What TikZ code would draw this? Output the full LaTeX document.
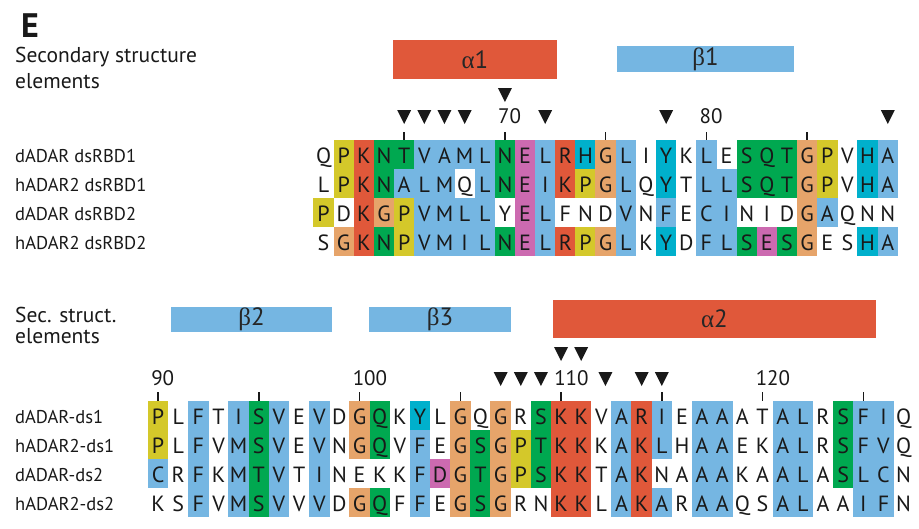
\documentclass[tikz,border=0pt]{standalone}
\usepackage{fontspec}
\setmainfont{PT Sans}
\newfontfamily\greekfont{Liberation Serif}
\usetikzlibrary{positioning}
% residue colours
\definecolor{aaY}{RGB}{212,200,42}
\definecolor{aaR}{RGB}{224,88,58}
\definecolor{aaG}{RGB}{0,168,80}
\definecolor{aaB}{RGB}{117,182,226}
\definecolor{aaM}{RGB}{204,106,176}
\definecolor{aaC}{RGB}{0,176,204}
\definecolor{aaO}{RGB}{230,164,106}
\def\colw{20.15}
\def\wcode{W}
% one alignment row: name, x of first cell, top of row, cells
\newcommand\alnrow[4]{%
  \foreach \aa/\cc [count=\k from 0] in {#4}{
    \ifx\cc\wcode\else
      \fill[fill=aa\cc] ({#2+\k*\colw-0.15},#3-0.15) rectangle ({#2+(\k+1)*\colw+0.15},#3+29.15);
    \fi
    \node[seqletter] (#1-\k) at ({#2+(\k+0.5)*\colw},#3+23) {\aa};
  }}
% filled down-pointing marker: x of centre, top
\newcommand\dsmark[2]{%
  \fill[black!90] ({#1-7},#2) -- ({#1+7},#2) -- ({#1},#2+14) -- cycle;}
\tikzset{
  every picture/.style={x=1pt,y=-1pt},
  seqletter/.style={inner sep=0pt,anchor=base,font=\fontsize{22}{26}\selectfont,text=black!90},
  rowlabel/.style={inner sep=0pt,anchor=base west,font=\fontsize{18.5}{22}\selectfont,text=black!90},
  sslabel/.style={inner sep=0pt,anchor=base west,font=\fontsize{21.5}{25}\selectfont,text=black!90},
  posnum/.style={inner sep=0pt,anchor=base west,font=\fontsize{21}{25}\selectfont,text=black!90},
  sselem/.style={inner sep=0pt,font=\fontsize{25}{29}\selectfont,text=black!85},
  tick/.style={line width=1.6pt,black!90}
}
\begin{document}
\begin{tikzpicture}
\useasboundingbox[fill=white] (0,0) rectangle (919,528);
\node[inner sep=0pt,anchor=base west,font=\fontsize{34}{38}\selectfont\bfseries,text=black!90] (panel) at (21,37) {E};
%% block 1: residues 61-89
\node[sslabel] (ss1a) at (15,62) {Secondary structure};
\node[sslabel] (ss1b) at (15,88) {elements};
\node[rowlabel] (l1) at (15,162) {dADAR dsRBD1};
\node[rowlabel] (l2) at (15,191) {hADAR2 dsRBD1};
\node[rowlabel] (l3) at (15,220) {dADAR dsRBD2};
\node[rowlabel] (l4) at (15,249) {hADAR2 dsRBD2};
\node[sselem,fill=aaR,minimum width=164pt,minimum height=39pt] (a1) at (475,59.5) {{\greekfont α}1};
\node[sselem,fill=aaB,minimum width=177pt,minimum height=26pt] (b1) at (705.5,59) {{\greekfont β}1};
\foreach \i in {4,9,...,24}{
  \draw[tick] ({313.5+(\i+0.5)*\colw},132) -- ++(0,8);}
\node[posnum] (n70) at ({313.5+9.5*\colw-7},123) {70};
\node[posnum] (n80) at ({313.5+19.5*\colw-7},123) {80};
\foreach \i in {4,5,6,7,11,17,28}{
  \dsmark{313.5+(\i+0.5)*\colw}{110}}
\dsmark{313.5+9.5*\colw}{88}
\alnrow{r1}{313.5}{140}{Q/W,P/Y,K/R,N/G,T/G,V/B,A/B,M/B,L/B,N/G,E/M,L/B,R/R,H/C,G/O,L/B,I/W,Y/C,K/W,L/B,E/W,S/G,Q/G,T/G,G/O,P/Y,V/W,H/C,A/B}
\alnrow{r2}{313.5}{169}{L/W,P/Y,K/R,N/G,A/B,L/B,M/B,Q/W,L/B,N/G,E/M,I/B,K/R,P/Y,G/O,L/B,Q/W,Y/C,T/W,L/B,L/B,S/G,Q/G,T/G,G/O,P/Y,V/W,H/C,A/B}
\alnrow{r3}{313.5}{198}{P/Y,D/W,K/R,G/O,P/Y,V/B,M/B,L/B,L/B,Y/W,E/M,L/B,F/W,N/W,D/W,V/B,N/W,F/B,E/W,C/B,I/B,N/W,I/W,D/W,G/O,A/B,Q/W,N/W,N/W}
\alnrow{r4}{313.5}{227}{S/W,G/O,K/R,N/G,P/Y,V/B,M/B,I/B,L/B,N/G,E/M,L/B,R/R,P/Y,G/O,L/B,K/W,Y/C,D/W,F/B,L/B,S/G,E/M,S/G,G/O,E/W,S/W,H/C,A/B}
%% block 2: residues 90-127
\node[sslabel] (ss2a) at (15,322) {Sec. struct.};
\node[sslabel] (ss2b) at (15,343) {elements};
\node[rowlabel] (m1) at (15,423) {dADAR-ds1};
\node[rowlabel] (m2) at (15,452) {hADAR2-ds1};
\node[rowlabel] (m3) at (15,481) {dADAR-ds2};
\node[rowlabel] (m4) at (15,510) {hADAR2-ds2};
\node[sselem,fill=aaB,minimum width=161pt,minimum height=25pt] (b2) at (251.5,319.5) {{\greekfont β}2};
\node[sselem,fill=aaB,minimum width=142pt,minimum height=25pt] (b3) at (440,319.5) {{\greekfont β}3};
\node[sselem,fill=aaR,minimum width=323pt,minimum height=38pt] (a2) at (714.5,319) {{\greekfont α}2};
\foreach \i in {0,5,...,35}{
  \draw[tick] ({148+(\i+0.5)*\colw},392) -- ++(0,9);}
\foreach \i/\num in {0/90,10/100,20/110,30/120}{
  \node[posnum] (n\num) at ({148+(\i+0.5)*\colw-7},385) {\num};}
\foreach \i in {17,18,19,22.2,24,25}{
  \dsmark{148+(\i+0.5)*\colw}{372}}
\foreach \i in {20,21}{
  \dsmark{148+(\i+0.5)*\colw}{347}}
\alnrow{s1}{148}{401}{P/Y,L/W,F/B,T/W,I/B,S/G,V/B,E/W,V/B,D/W,G/O,Q/G,K/W,Y/C,L/W,G/O,Q/W,G/O,R/W,S/G,K/R,K/R,V/W,A/B,R/R,I/B,E/W,A/B,A/B,A/W,T/W,A/B,L/B,R/W,S/G,F/B,I/B,Q/W}
\alnrow{s2}{148}{430}{P/Y,L/W,F/B,V/W,M/B,S/G,V/B,E/W,V/B,N/W,G/O,Q/G,V/W,F/B,E/W,G/O,S/G,G/O,P/Y,T/G,K/R,K/R,K/W,A/B,K/R,L/B,H/W,A/B,A/B,E/W,K/W,A/B,L/B,R/W,S/G,F/B,V/B,Q/W}
\alnrow{s3}{148}{459}{C/B,R/W,F/B,K/W,M/B,T/G,V/B,T/W,I/B,N/W,E/W,K/W,K/W,F/B,D/M,G/O,T/G,G/O,P/Y,S/G,K/R,K/R,T/W,A/B,K/R,N/W,A/W,A/B,A/B,K/W,A/W,A/B,L/B,A/W,S/G,L/B,C/B,N/W}
\alnrow{s4}{148}{488}{K/W,S/W,F/B,V/W,M/B,S/G,V/B,V/W,V/B,D/W,G/O,Q/G,F/W,F/B,E/W,G/O,S/G,G/O,R/W,N/W,K/R,K/R,L/W,A/B,K/R,A/B,R/W,A/B,A/B,Q/W,S/W,A/B,L/B,A/W,A/W,I/B,F/B,N/W}
\end{tikzpicture}
\end{document}
